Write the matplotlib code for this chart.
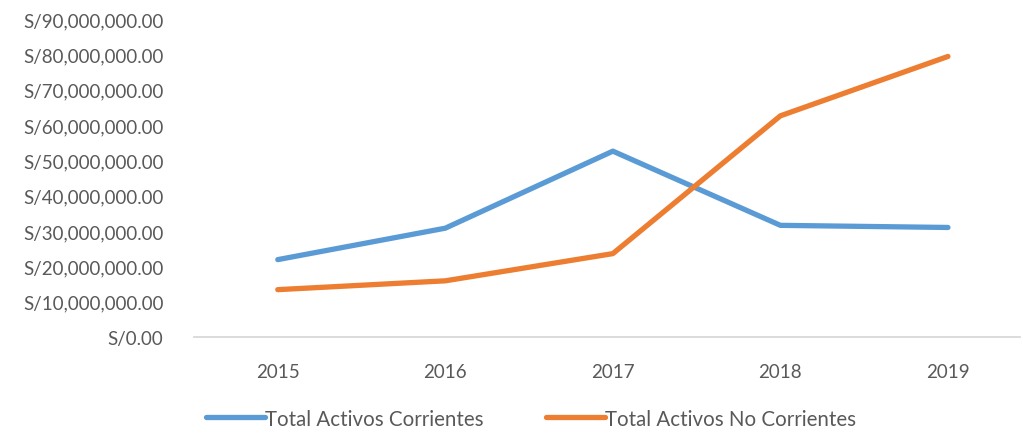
import matplotlib
matplotlib.use("Agg")
import matplotlib.pyplot as plt
from matplotlib.ticker import FuncFormatter

plt.rcParams.update({"font.family": ["Lato", "DejaVu Sans"], "font.size": 13.5})

years = ["2015", "2016", "2017", "2018", "2019"]
corrientes = [21.9e6, 30.8e6, 52.6e6, 31.6e6, 31.0e6]
no_corrientes = [13.4e6, 15.9e6, 23.6e6, 62.6e6, 79.4e6]

BLUE = "#5B9BD5"
ORANGE = "#ED7D31"
TXT = "#595959"

fig = plt.figure(figsize=(10.23, 4.35), dpi=100)
ax = fig.add_axes([194 / 1023, 1 - 338 / 435, 826 / 1023, 318 / 435])

x = range(len(years))
ax.plot(x, corrientes, color=BLUE, lw=3.8, solid_capstyle="round",
        solid_joinstyle="round", label="Total Activos Corrientes")
ax.plot(x, no_corrientes, color=ORANGE, lw=3.8, solid_capstyle="round",
        solid_joinstyle="round", label="Total Activos No Corrientes")

ax.set_xlim(-0.5, 4.43)
ax.set_ylim(0, 90e6)
ax.set_yticks([i * 10e6 for i in range(10)])
ax.yaxis.set_major_formatter(FuncFormatter(lambda v, p: f"S/{v:,.2f}"))
ax.set_xticks(list(x))
ax.set_xticklabels(years)
ax.tick_params(length=0, colors=TXT, labelsize=13.5)
ax.tick_params(axis="y", pad=22)
ax.tick_params(axis="x", pad=19)
for s in ["top", "right", "left"]:
    ax.spines[s].set_visible(False)
ax.spines["bottom"].set_color("#D9D9D9")
ax.spines["bottom"].set_linewidth(1.3)

fig.legend(loc="lower center", bbox_to_anchor=(0.519, -0.03), ncol=2, frameon=False,
           handlelength=2.9, handletextpad=0.0, columnspacing=3.0,
           labelcolor=TXT, fontsize=14.8)

fig.savefig("out.png", dpi=100)
